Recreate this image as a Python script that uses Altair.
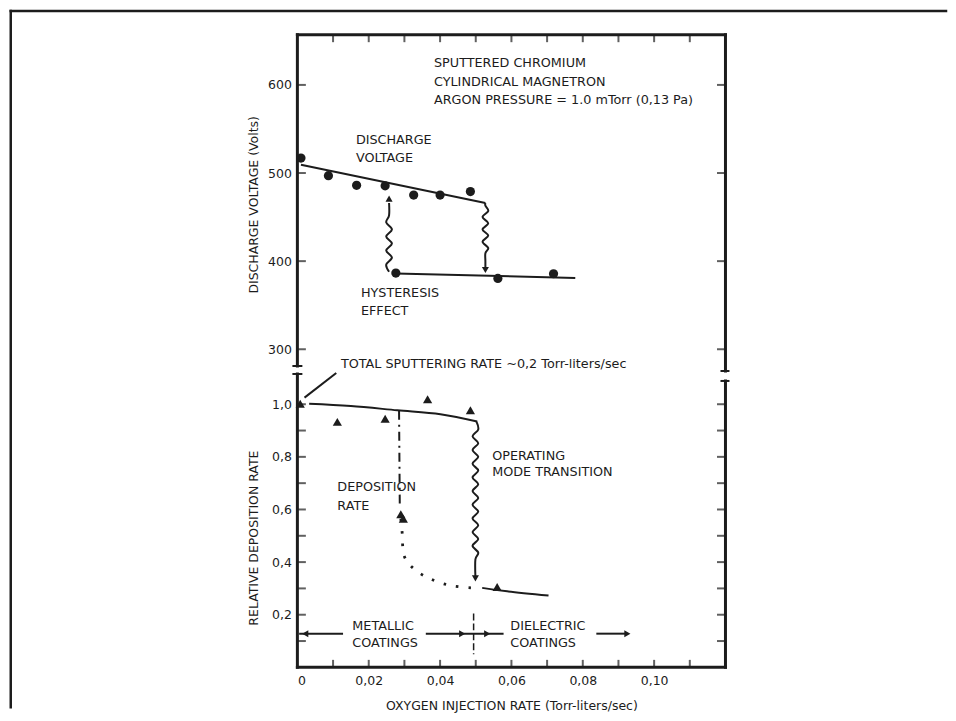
import altair as alt
import pandas as pd

INK = "#1c1c1c"
FONT = "DejaVu Sans"

# ---------------- axis values ----------------
x_label_vals = [0, 0.02, 0.04, 0.06, 0.08, 0.10]
x_tick_vals = [0.01, 0.02, 0.03, 0.04, 0.05, 0.06, 0.07, 0.08, 0.09, 0.10, 0.11]
v_label_vals = [300, 400, 500, 600]
r_label_vals = [0.2, 0.4, 0.6, 0.8, 1.0]
r_tick_vals = [0.1, 0.2, 0.3, 0.4, 0.5, 0.6, 0.7, 0.8, 0.9, 1.0]

# ---------------- top panel: discharge voltage ----------------
v_x = [0.001, 0.0087, 0.0166, 0.0246, 0.0326, 0.0400, 0.0485, 0.0276, 0.0562, 0.0718]
v_y = [517, 497, 486, 485.5, 475, 475, 479, 386.4, 380.4, 385.7]

v_hi_x = [0.001, 0.0527]
v_hi_y = [509.5, 466]
v_lo_x = [0.0276, 0.0779]
v_lo_y = [386, 381]

# hysteresis wavy arrows (decorative)
top_down_x = [0.0527, 0.0527, 0.0535, 0.0519, 0.0535, 0.0519, 0.0535, 0.0519, 0.0535, 0.0527, 0.0527, 0.0527]
top_down_y = [466, 463, 457, 450, 443, 436, 429, 422, 415, 409, 400, 391]
top_up_x = [0.0257, 0.0249, 0.0265, 0.0249, 0.0265, 0.0249, 0.0265, 0.0249, 0.0257, 0.0257]
top_up_y = [388, 396, 404, 412, 420, 428, 436, 444, 452, 466]
top_heads_x = [0.0527, 0.0257]
top_heads_y = [390, 471]
top_heads_s = ["triangle-down", "triangle-up"]

top_text = [
    "SPUTTERED CHROMIUM",
    "CYLINDRICAL MAGNETRON",
    "ARGON PRESSURE = 1.0 mTorr (0,13 Pa)",
    "DISCHARGE",
    "VOLTAGE",
    "HYSTERESIS",
    "EFFECT",
    "TOTAL SPUTTERING RATE ~0,2 Torr-liters/sec",
]
top_text_x = [0.0383, 0.0383, 0.0383, 0.0164, 0.0164, 0.0178, 0.0178, 0.0122]
top_text_y = [624.5, 603.7, 583, 537.7, 516.8, 363.8, 343, 283.5]

# ---------------- bottom panel: relative deposition rate ----------------
d_x = [0.0008, 0.0112, 0.0246, 0.0365, 0.0485, 0.0290, 0.0297, 0.0560]
d_y = [1.002, 0.933, 0.945, 1.019, 0.977, 0.582, 0.565, 0.305]

d_hi_x = [0.0033, 0.015, 0.028, 0.0401, 0.0504]
d_hi_y = [1.002, 0.993, 0.977, 0.962, 0.934]
d_lo_x = [0.0518, 0.0588, 0.0704]
d_lo_y = [0.302, 0.289, 0.273]

dash_x = [0.0285, 0.0287]
dash_y = [0.975, 0.62]
dot_x = [0.0290, 0.0294, 0.0299, 0.0327, 0.0373, 0.0429, 0.0490]
dot_y = [0.565, 0.507, 0.425, 0.374, 0.336, 0.311, 0.302]

bot_wave_x = [0.0502, 0.0507, 0.0491, 0.0507, 0.0491, 0.0507, 0.0491, 0.0507, 0.0491,
              0.0507, 0.0491, 0.0507, 0.0491, 0.0507, 0.0491, 0.0507, 0.0491, 0.0507,
              0.0491, 0.0507, 0.0499, 0.0499]
bot_wave_y = [0.934, 0.904, 0.878, 0.852, 0.826, 0.800, 0.774, 0.748, 0.722, 0.696,
              0.670, 0.644, 0.618, 0.592, 0.566, 0.540, 0.514, 0.488, 0.462, 0.436,
              0.410, 0.345]

leader_x = [0.002, 0.0109]
leader_y = [1.025, 1.119]

zone_seg = [(0.0005, 0.0128), (0.036, 0.0578), (0.0838, 0.0925)]
zone_y = 0.128
boundary_x = [0.0494, 0.0494]
boundary_y = [0.205, 0.05]

bot_heads_x = [0.0499, 0.0022, 0.0462, 0.0532, 0.0925]
bot_heads_y = [0.338, zone_y, zone_y, zone_y, zone_y]
bot_heads_s = ["triangle-down", "triangle-left", "triangle-right", "triangle-right", "triangle-right"]

bot_text = ["OPERATING", "MODE TRANSITION", "DEPOSITION", "RATE",
            "METALLIC", "COATINGS", "DIELECTRIC", "COATINGS"]
bot_text_x = [0.0546, 0.0546, 0.0112, 0.0112, 0.0154, 0.0154, 0.0597, 0.0597]
bot_text_y = [0.804, 0.741, 0.684, 0.614, 0.159, 0.092, 0.159, 0.092]

# ---------------- layout sizes ----------------
W = 429
H1 = 332
H2 = 294


def lines_df(groups):
    rows = []
    for g, xs, ys in groups:
        for i, (a, b) in enumerate(zip(xs, ys)):
            rows.append({"g": g, "i": i, "x": a, "y": b})
    return pd.DataFrame(rows)


one = pd.DataFrame({"k": [0]})


def rule(x, y, x2=None, y2=None, w=3.0):
    enc = dict(x=alt.value(x), y=alt.value(y))
    if x2 is not None:
        enc["x2"] = alt.value(x2)
    if y2 is not None:
        enc["y2"] = alt.value(y2)
    return alt.Chart(one).mark_rule(color=INK, strokeWidth=w, strokeCap="square").encode(**enc)


xscale = alt.Scale(domain=[0, 0.12], nice=False, zero=False)

# ================= TOP PANEL =================
XT = alt.X("x:Q", scale=xscale, axis=None)
YT = alt.Y(
    "y:Q",
    scale=alt.Scale(domain=[281, 657], nice=False, zero=False),
    axis=alt.Axis(
        values=v_label_vals, format="d", ticks=False, tickSize=0, domain=False, grid=False,
        labelPadding=6, title="DISCHARGE VOLTAGE (Volts)", titleX=-44, titleY=170,
        titleBaseline="middle", titleAngle=-90,
    ),
)

top_lines = lines_df([
    ("hi", v_hi_x, v_hi_y),
    ("lo", v_lo_x, v_lo_y),
    ("down", top_down_x, top_down_y),
    ("up", top_up_x, top_up_y),
])
t_line = alt.Chart(top_lines).mark_line(color=INK, strokeWidth=2, interpolate="cardinal").encode(
    x=XT, y=YT, detail="g:N", order="i:Q")

t_pts = alt.Chart(pd.DataFrame({"x": v_x, "y": v_y})).mark_point(
    shape="circle", filled=True, size=85, color=INK, opacity=1).encode(x=XT, y=YT)

t_heads = alt.Chart(pd.DataFrame({"x": top_heads_x, "y": top_heads_y, "s": top_heads_s})).mark_point(
    filled=True, size=50, color=INK, opacity=1).encode(x=XT, y=YT, shape=alt.Shape("s:N", scale=None))

t_txt = alt.Chart(pd.DataFrame({"x": top_text_x, "y": top_text_y, "t": top_text})).mark_text(
    align="left", baseline="middle", font=FONT, fontSize=12.8, color=INK).encode(x=XT, y=YT, text="t:N")

t_tick_l = alt.Chart(pd.DataFrame({"y": v_label_vals})).mark_tick(
    orient="horizontal", size=8, thickness=2, color=INK).encode(y=YT, x=alt.value(4.5))
t_tick_r = alt.Chart(pd.DataFrame({"y": v_label_vals})).mark_tick(
    orient="horizontal", size=8, thickness=2, color=INK).encode(y=YT, x=alt.value(W - 4.5))
t_tick_t = alt.Chart(pd.DataFrame({"x": x_tick_vals})).mark_tick(
    orient="vertical", size=7, thickness=2, color=INK).encode(x=XT, y=alt.value(4))

top_frame = [
    rule(0, 0, y2=H1),            # left
    rule(W, 0, y2=H1 + 5),        # right
    rule(0, 0, x2=W),             # top
    rule(-4, H1, x2=4, w=2),      # break caps
    rule(W - 4, H1 + 5, x2=W + 3, w=2),
    # outer picture border (top and left)
    rule(-287.25, -23.75, x2=650, w=2.5),
    rule(-287.25, -23.75, y2=674, w=2.5),
]

top = alt.layer(t_tick_l, t_tick_r, t_tick_t, t_line, t_pts, t_heads, t_txt, *top_frame).properties(
    width=W, height=H1)

# ================= BOTTOM PANEL =================
XB = alt.X(
    "x:Q", scale=xscale,
    axis=alt.Axis(
        values=x_label_vals, ticks=False, tickSize=0, domain=False, grid=False, labelPadding=7,
        labelExpr="datum.value == 0 ? '0' : replace(format(datum.value, '.2f'), '.', ',')",
        title="OXYGEN INJECTION RATE (Torr-liters/sec)", titleY=38, titleBaseline="middle",
    ),
)
YB = alt.Y(
    "y:Q",
    scale=alt.Scale(domain=[0, 1.115], nice=False, zero=False),
    axis=alt.Axis(
        values=r_label_vals, ticks=False, tickSize=0, domain=False, grid=False, labelPadding=6,
        labelExpr="replace(format(datum.value, '.1f'), '.', ',')",
        title="RELATIVE DEPOSITION RATE", titleX=-44, titleY=164, titleBaseline="middle",
        titleAngle=-90,
    ),
)

bot_lines = lines_df(
    [("hi", d_hi_x, d_hi_y), ("lo", d_lo_x, d_lo_y), ("wave", bot_wave_x, bot_wave_y),
     ("leader", leader_x, leader_y)]
    + [("zone%d" % k, [a, b], [zone_y, zone_y]) for k, (a, b) in enumerate(zone_seg)]
)
b_line = alt.Chart(bot_lines).mark_line(color=INK, strokeWidth=2, interpolate="cardinal").encode(
    x=XB, y=YB, detail="g:N", order="i:Q")

b_dash = alt.Chart(lines_df([("d", dash_x, dash_y)])).mark_line(
    color=INK, strokeWidth=2, strokeDash=[9, 5, 2, 5]).encode(x=XB, y=YB, order="i:Q")
b_bound = alt.Chart(lines_df([("b", boundary_x, boundary_y)])).mark_line(
    color=INK, strokeWidth=1.5, strokeDash=[7, 3]).encode(x=XB, y=YB, order="i:Q")
b_dot = alt.Chart(lines_df([("dot", dot_x, dot_y)])).mark_line(
    color=INK, strokeWidth=2.8, strokeDash=[2.5, 10], interpolate="cardinal").encode(x=XB, y=YB, order="i:Q")

b_pts = alt.Chart(pd.DataFrame({"x": d_x, "y": d_y})).mark_point(
    shape="triangle-up", filled=True, size=85, color=INK, opacity=1).encode(x=XB, y=YB)

b_heads = alt.Chart(pd.DataFrame({"x": bot_heads_x, "y": bot_heads_y, "s": bot_heads_s})).mark_point(
    filled=True, size=50, color=INK, opacity=1).encode(x=XB, y=YB, shape=alt.Shape("s:N", scale=None))

b_txt = alt.Chart(pd.DataFrame({"x": bot_text_x, "y": bot_text_y, "t": bot_text})).mark_text(
    align="left", baseline="middle", font=FONT, fontSize=12.8, color=INK).encode(x=XB, y=YB, text="t:N")

b_tick_l = alt.Chart(pd.DataFrame({"y": r_tick_vals})).mark_tick(
    orient="horizontal", size=8, thickness=2, color=INK).encode(y=YB, x=alt.value(4.5))
b_tick_r = alt.Chart(pd.DataFrame({"y": r_tick_vals})).mark_tick(
    orient="horizontal", size=8, thickness=2, color=INK).encode(y=YB, x=alt.value(W - 4.5))
b_tick_b = alt.Chart(pd.DataFrame({"x": x_tick_vals})).mark_tick(
    orient="vertical", size=7, thickness=2, color=INK).encode(x=XB, y=alt.value(H2 - 4))

bot_frame = [
    rule(0, 0, y2=H2),            # left
    rule(W, 7, y2=H2),            # right
    rule(0, H2, x2=W),            # bottom
    rule(-4, 0, x2=4, w=2),       # break caps
    rule(W - 4, 7, x2=W + 3, w=2),
]

bottom = alt.layer(b_tick_l, b_tick_r, b_tick_b, b_line, b_dash, b_bound, b_dot, b_pts, b_heads,
                   b_txt, *bot_frame).properties(width=W, height=H2)

chart = (
    alt.vconcat(top, bottom, spacing=8, bounds="flush")
    .properties(padding=0, background="white")
    .configure_view(stroke=None)
    .configure_axis(
        labelFont=FONT, titleFont=FONT, labelColor=INK, titleColor=INK,
        labelFontSize=12.5, titleFontSize=12.5, titleFontWeight="normal",
    )
)

chart.save("out.html", embed_options={"renderer": "svg", "actions": False})
